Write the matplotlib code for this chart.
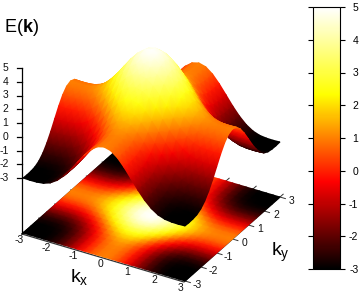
import numpy as np
import matplotlib
matplotlib.use("Agg")
import matplotlib.pyplot as plt
from matplotlib.colors import LinearSegmentedColormap, Normalize
from matplotlib.cm import ScalarMappable

plt.rcParams["font.family"] = ["Liberation Sans", "DejaVu Sans"]
plt.rcParams["mathtext.fontset"] = "custom"
plt.rcParams["mathtext.rm"] = "Liberation Sans"
plt.rcParams["mathtext.bf"] = "Liberation Sans:bold"
plt.rcParams["axes.unicode_minus"] = False

# values
kx = [-3, -2.75, -2.5, -2.25, -2, -1.75, -1.5, -1.25, -1, -0.75, -0.5, -0.25, 0,
      0.25, 0.5, 0.75, 1, 1.25, 1.5, 1.75, 2, 2.25, 2.5, 2.75, 3]
ky = [-3, -2.75, -2.5, -2.25, -2, -1.75, -1.5, -1.25, -1, -0.75, -0.5, -0.25, 0,
      0.25, 0.5, 0.75, 1, 1.25, 1.5, 1.75, 2, 2.25, 2.5, 2.75, 3]
energy = [
    [-3.00, -3.02, -3.01, -2.95, -2.78, -2.46, -1.99, -1.40, -0.73, -0.07, 0.49, 0.87, 1.00, 0.87, 0.49, -0.07, -0.73, -1.40, -1.99, -2.46, -2.78, -2.95, -3.01, -3.02, -3.00],
    [-3.02, -3.04, -3.03, -2.97, -2.80, -2.48, -2.01, -1.42, -0.75, -0.09, 0.47, 0.85, 0.98, 0.85, 0.47, -0.09, -0.75, -1.42, -2.01, -2.48, -2.80, -2.97, -3.03, -3.04, -3.02],
    [-3.01, -3.03, -3.02, -2.96, -2.79, -2.47, -2.00, -1.41, -0.74, -0.08, 0.48, 0.86, 0.99, 0.86, 0.48, -0.08, -0.74, -1.41, -2.00, -2.47, -2.79, -2.96, -3.02, -3.03, -3.01],
    [-2.95, -2.97, -2.96, -2.90, -2.73, -2.41, -1.94, -1.35, -0.68, -0.02, 0.54, 0.92, 1.05, 0.92, 0.54, -0.02, -0.68, -1.35, -1.94, -2.41, -2.73, -2.90, -2.96, -2.97, -2.95],
    [-2.78, -2.80, -2.79, -2.73, -2.56, -2.24, -1.77, -1.18, -0.51, 0.15, 0.71, 1.09, 1.22, 1.09, 0.71, 0.15, -0.51, -1.18, -1.77, -2.24, -2.56, -2.73, -2.79, -2.80, -2.78],
    [-2.46, -2.48, -2.47, -2.41, -2.24, -1.92, -1.45, -0.86, -0.19, 0.47, 1.03, 1.41, 1.54, 1.41, 1.03, 0.47, -0.19, -0.86, -1.45, -1.92, -2.24, -2.41, -2.47, -2.48, -2.46],
    [-1.99, -2.01, -2.00, -1.94, -1.77, -1.45, -0.98, -0.39, 0.28, 0.94, 1.50, 1.88, 2.01, 1.88, 1.50, 0.94, 0.28, -0.39, -0.98, -1.45, -1.77, -1.94, -2.00, -2.01, -1.99],
    [-1.40, -1.42, -1.41, -1.35, -1.18, -0.86, -0.39, 0.20, 0.87, 1.53, 2.09, 2.47, 2.60, 2.47, 2.09, 1.53, 0.87, 0.20, -0.39, -0.86, -1.18, -1.35, -1.41, -1.42, -1.40],
    [-0.73, -0.75, -0.74, -0.68, -0.51, -0.19, 0.28, 0.87, 1.54, 2.20, 2.76, 3.14, 3.27, 3.14, 2.76, 2.20, 1.54, 0.87, 0.28, -0.19, -0.51, -0.68, -0.74, -0.75, -0.73],
    [-0.07, -0.09, -0.08, -0.02, 0.15, 0.47, 0.94, 1.53, 2.20, 2.86, 3.42, 3.80, 3.93, 3.80, 3.42, 2.86, 2.20, 1.53, 0.94, 0.47, 0.15, -0.02, -0.08, -0.09, -0.07],
    [0.49, 0.47, 0.48, 0.54, 0.71, 1.03, 1.50, 2.09, 2.76, 3.42, 3.98, 4.36, 4.49, 4.36, 3.98, 3.42, 2.76, 2.09, 1.50, 1.03, 0.71, 0.54, 0.48, 0.47, 0.49],
    [0.87, 0.85, 0.86, 0.92, 1.09, 1.41, 1.88, 2.47, 3.14, 3.80, 4.36, 4.74, 4.87, 4.74, 4.36, 3.80, 3.14, 2.47, 1.88, 1.41, 1.09, 0.92, 0.86, 0.85, 0.87],
    [1.00, 0.98, 0.99, 1.05, 1.22, 1.54, 2.01, 2.60, 3.27, 3.93, 4.49, 4.87, 5.00, 4.87, 4.49, 3.93, 3.27, 2.60, 2.01, 1.54, 1.22, 1.05, 0.99, 0.98, 1.00],
    [0.87, 0.85, 0.86, 0.92, 1.09, 1.41, 1.88, 2.47, 3.14, 3.80, 4.36, 4.74, 4.87, 4.74, 4.36, 3.80, 3.14, 2.47, 1.88, 1.41, 1.09, 0.92, 0.86, 0.85, 0.87],
    [0.49, 0.47, 0.48, 0.54, 0.71, 1.03, 1.50, 2.09, 2.76, 3.42, 3.98, 4.36, 4.49, 4.36, 3.98, 3.42, 2.76, 2.09, 1.50, 1.03, 0.71, 0.54, 0.48, 0.47, 0.49],
    [-0.07, -0.09, -0.08, -0.02, 0.15, 0.47, 0.94, 1.53, 2.20, 2.86, 3.42, 3.80, 3.93, 3.80, 3.42, 2.86, 2.20, 1.53, 0.94, 0.47, 0.15, -0.02, -0.08, -0.09, -0.07],
    [-0.73, -0.75, -0.74, -0.68, -0.51, -0.19, 0.28, 0.87, 1.54, 2.20, 2.76, 3.14, 3.27, 3.14, 2.76, 2.20, 1.54, 0.87, 0.28, -0.19, -0.51, -0.68, -0.74, -0.75, -0.73],
    [-1.40, -1.42, -1.41, -1.35, -1.18, -0.86, -0.39, 0.20, 0.87, 1.53, 2.09, 2.47, 2.60, 2.47, 2.09, 1.53, 0.87, 0.20, -0.39, -0.86, -1.18, -1.35, -1.41, -1.42, -1.40],
    [-1.99, -2.01, -2.00, -1.94, -1.77, -1.45, -0.98, -0.39, 0.28, 0.94, 1.50, 1.88, 2.01, 1.88, 1.50, 0.94, 0.28, -0.39, -0.98, -1.45, -1.77, -1.94, -2.00, -2.01, -1.99],
    [-2.46, -2.48, -2.47, -2.41, -2.24, -1.92, -1.45, -0.86, -0.19, 0.47, 1.03, 1.41, 1.54, 1.41, 1.03, 0.47, -0.19, -0.86, -1.45, -1.92, -2.24, -2.41, -2.47, -2.48, -2.46],
    [-2.78, -2.80, -2.79, -2.73, -2.56, -2.24, -1.77, -1.18, -0.51, 0.15, 0.71, 1.09, 1.22, 1.09, 0.71, 0.15, -0.51, -1.18, -1.77, -2.24, -2.56, -2.73, -2.79, -2.80, -2.78],
    [-2.95, -2.97, -2.96, -2.90, -2.73, -2.41, -1.94, -1.35, -0.68, -0.02, 0.54, 0.92, 1.05, 0.92, 0.54, -0.02, -0.68, -1.35, -1.94, -2.41, -2.73, -2.90, -2.96, -2.97, -2.95],
    [-3.01, -3.03, -3.02, -2.96, -2.79, -2.47, -2.00, -1.41, -0.74, -0.08, 0.48, 0.86, 0.99, 0.86, 0.48, -0.08, -0.74, -1.41, -2.00, -2.47, -2.79, -2.96, -3.02, -3.03, -3.01],
    [-3.02, -3.04, -3.03, -2.97, -2.80, -2.48, -2.01, -1.42, -0.75, -0.09, 0.47, 0.85, 0.98, 0.85, 0.47, -0.09, -0.75, -1.42, -2.01, -2.48, -2.80, -2.97, -3.03, -3.04, -3.02],
    [-3.00, -3.02, -3.01, -2.95, -2.78, -2.46, -1.99, -1.40, -0.73, -0.07, 0.49, 0.87, 1.00, 0.87, 0.49, -0.07, -0.73, -1.40, -1.99, -2.46, -2.78, -2.95, -3.01, -3.02, -3.00],
]
k_ticks = [-3, -2, -1, 0, 1, 2, 3]
z_ticks = [-3, -2, -1, 0, 1, 2, 3, 4, 5]
gray_bar_ticks = [-2, -1, 2, 3]

# gnuplot style hot palette
hot = LinearSegmentedColormap.from_list(
    "gp_hot", [(0, "#000000"), (1 / 3, "#ff0000"), (2 / 3, "#ffff00"), (1, "#ffffff")]
)
norm = Normalize(-3, 5)


# orthographic view, everything ends up in figure pixels
def project(x, y, z):
    x, y, z = np.asarray(x, float), np.asarray(y, float), np.asarray(z, float)
    px = 23 + (x + 3) * 162 / 6 + (y + 3) * 95 / 6
    py = 233 + (x + 3) * 48 / 6 - (y + 3) * 84 / 6
    return px, py - 55 - (z + 3) * 13.75


def project_floor(x, y):
    px, py = project(x, y, -3)
    return px, py + 55


fig = plt.figure(figsize=(3.61, 2.94), dpi=100)
ax = fig.add_axes([0, 0, 1, 1])
ax.set_xlim(0, 361)
ax.set_ylim(294, 0)
ax.axis("off")

E = np.array(energy)
gx, gy = np.meshgrid(kx, ky[::-1], indexing="ij")  # back corner first
gz = E[:, ::-1]

# ticks and border of the base
for t in k_ticks:
    x0, y0 = project_floor(t, -3)
    x1, y1 = project_floor(t, -2.8)
    ax.plot([x0, x1], [y0, y1], color="#333333", lw=0.7, zorder=1)
    x0, y0 = project_floor(t, 3)
    x1, y1 = project_floor(t, 3.2)
    ax.plot([x0, x1], [y0, y1], color="#333333", lw=0.7, zorder=1)
    x0, y0 = project_floor(-3, t)
    x1, y1 = project_floor(-2.8, t)
    ax.plot([x0, x1], [y0 - 1, y1 - 1], color="#333333", lw=0.7, zorder=1)
    x0, y0 = project_floor(3, t)
    x1, y1 = project_floor(3.2, t)
    ax.plot([x0, x1], [y0, y1], color="#333333", lw=0.7, zorder=1)

cx = [-3, 3, 3, -3, -3]
cy = [-3, -3, 3, 3, -3]
bx, by = project_floor(cx, cy)
ax.plot(bx - 1, by + 1, color="#333333", lw=0.9, zorder=1)

fx, fy = project_floor(gx, gy)
ax.pcolormesh(fx, fy, gz, shading="gouraud", cmap=hot, norm=norm, zorder=2)

sx, sy = project(gx, gy, gz)
ax.pcolormesh(sx, sy, gz, shading="gouraud", cmap=hot, norm=norm, zorder=3)

# z axis
ax.plot([22, 22], [68, 233], color="black", lw=0.9, zorder=4)
for z in z_ticks:
    y = 68 + (5 - z) * 13.75
    ax.plot([17, 22], [y, y], color="black", lw=0.9, zorder=4)
    ax.text(8.5, y, str(z), ha="right", va="center", fontsize=7.5, color="#111111")

for t in k_ticks:
    x, y = project_floor(t, -3)
    ax.text(x - 4, y + 7, str(t), ha="center", va="center", fontsize=7.5, color="#111111")
    x, y = project_floor(3, t)
    ax.text(x + 12, y + 4, str(t), ha="center", va="center", fontsize=7.5, color="#111111")

ax.text(4, 28, r"E($\mathbf{k}$)", ha="left", va="center", fontsize=13)
ax.text(70, 278, r"k$_{\mathrm{x}}$", ha="left", va="center", fontsize=14)
ax.text(271, 252, r"k$_{\mathrm{y}}$", ha="left", va="center", fontsize=14)

# colour bar
cax = fig.add_axes([313 / 361, 1 - 269 / 294, 26.5 / 361, 262 / 294])
cb = fig.colorbar(ScalarMappable(norm=norm, cmap=hot), cax=cax, ticks=z_ticks)
cax.yaxis.set_ticks_position("both")
cax.yaxis.set_label_position("right")
cax.tick_params(axis="y", direction="out", length=3.6, width=0.8, labelsize=7.5,
                left=True, right=True, labelleft=False, labelright=True, pad=10)
for label in cax.get_yticklabels():
    label.set_ha("right")
cb.outline.set_linewidth(0.8)
cax.spines["left"].set_color("#808080")
for t, tick in zip(z_ticks, cax.yaxis.get_major_ticks()):
    if t in gray_bar_ticks:
        tick.tick1line.set_color("#808080")
        tick.tick2line.set_color("#808080")

fig.savefig("out.png", dpi=100)
